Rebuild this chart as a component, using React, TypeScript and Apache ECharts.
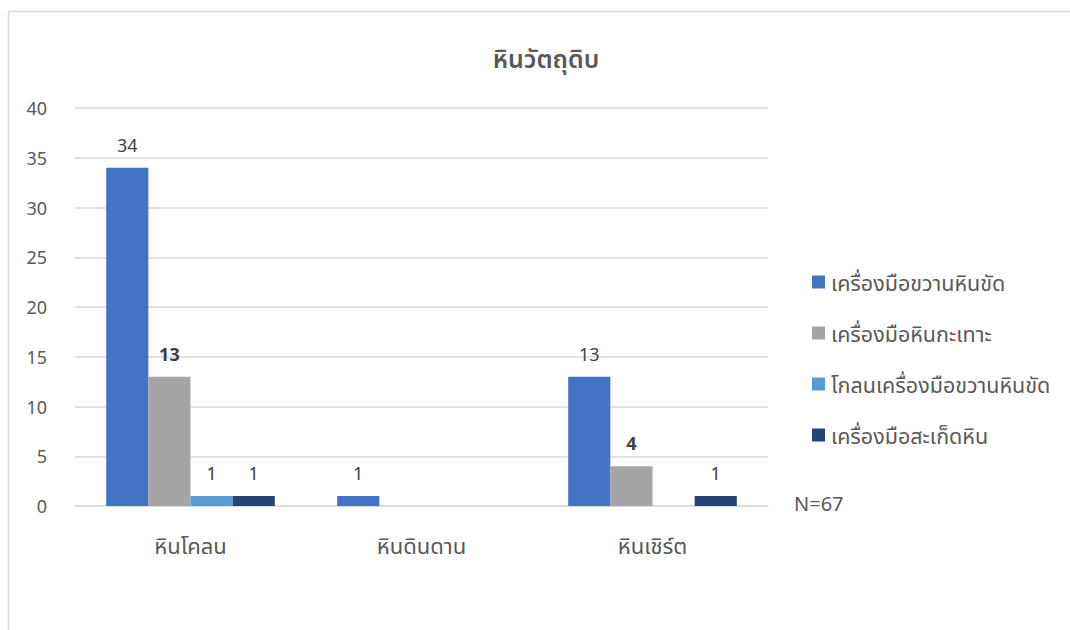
import React, { useEffect, useRef } from "react";
import * as echarts from "echarts";

const categories = ["หินโคลน", "หินดินดาน", "หินเชิร์ต"];
const seriesNames = [
  "เครื่องมือขวานหินขัด",
  "เครื่องมือหินกะเทาะ",
  "โกลนเครื่องมือขวานหินขัด",
  "เครื่องมือสะเก็ดหิน",
];
const axeValues: (number | null)[] = [34, 1, 13];
const flakedValues: (number | null)[] = [13, null, 4];
const roughoutValues: (number | null)[] = [1, null, null];
const flakeToolValues: (number | null)[] = [1, null, 1];
const boldLabels: boolean[][] = [
  [false, false, false],
  [true, false, true],
  [false, false, false],
  [false, false, false],
];
const colors = ["#4472c4", "#a5a5a5", "#5b9bd5", "#264478"];
const yTicks = { min: 0, max: 40, interval: 5 };
const noteText = "N=67";
const titleText = "หินวัตถุดิบ";

const FONT = "'Noto Sans', 'Noto Sans Thai', sans-serif";

export default function App() {
  const ref = useRef<HTMLDivElement>(null);
  useEffect(() => {
    if (!ref.current) return;
    const chart = echarts.init(ref.current, undefined, { renderer: "svg" });
    const allValues = [axeValues, flakedValues, roughoutValues, flakeToolValues];
    chart.setOption({
      animation: false,
      backgroundColor: "#ffffff",
      textStyle: { fontFamily: FONT },
      title: {
        text: titleText,
        left: 541,
        top: 40,
        textAlign: "center",
        textStyle: { fontSize: 25, fontWeight: 600, color: "#595959", fontFamily: FONT },
      },
      legend: {
        orient: "vertical",
        left: 807,
        top: 266,
        itemGap: 29,
        itemWidth: 13,
        itemHeight: 13,
        icon: "rect",
        data: seriesNames,
        textStyle: { fontSize: 21.5, color: "#595959", fontFamily: FONT, padding: [0, 0, 0, 1] },
      },
      grid: { left: 75, right: 302, top: 108, bottom: 124 },
      xAxis: {
        type: "category",
        data: categories,
        axisLine: { lineStyle: { color: "#d9d9d9", width: 1.5 } },
        axisTick: { show: false },
        axisLabel: { fontSize: 22, color: "#595959", margin: 28, fontFamily: FONT },
      },
      yAxis: {
        type: "value",
        min: yTicks.min,
        max: yTicks.max,
        interval: yTicks.interval,
        axisLine: { show: false },
        axisTick: { show: false },
        splitLine: { lineStyle: { color: "#d9d9d9", width: 1.5 } },
        axisLabel: { fontSize: 18, color: "#595959", margin: 28, fontFamily: FONT },
      },
      series: seriesNames.map((name, si) => ({
        name,
        type: "bar",
        barGap: "0%",
        barCategoryGap: "27%",
        itemStyle: { color: colors[si] },
        data: allValues[si].map((v, ci) =>
          v === null
            ? null
            : {
                value: v,
                label: {
                  fontWeight: boldLabels[si][ci] ? "bold" : "normal",
                },
              }
        ),
        label: {
          show: true,
          position: "top",
          distance: 14,
          fontSize: 18,
          color: "#404040",
          fontFamily: FONT,
        },
      })),
      graphic: [
        {
          type: "line",
          shape: { x1: 8.5, y1: 11.5, x2: 1070, y2: 11.5 },
          style: { stroke: "#d9d9d9", lineWidth: 1.5 },
        },
        {
          type: "line",
          shape: { x1: 8.5, y1: 11.5, x2: 8.5, y2: 630 },
          style: { stroke: "#d9d9d9", lineWidth: 1.5 },
        },
        {
          type: "text",
          left: 794,
          top: 493,
          style: { text: noteText, fontSize: 20, fill: "#595959", fontFamily: FONT },
        },
      ],
    });
    return () => chart.dispose();
  }, []);
  return (
    <div
      ref={ref}
      style={{ position: "fixed", left: 0, top: 0, width: 1070, height: 630 }}
    />
  );
}
